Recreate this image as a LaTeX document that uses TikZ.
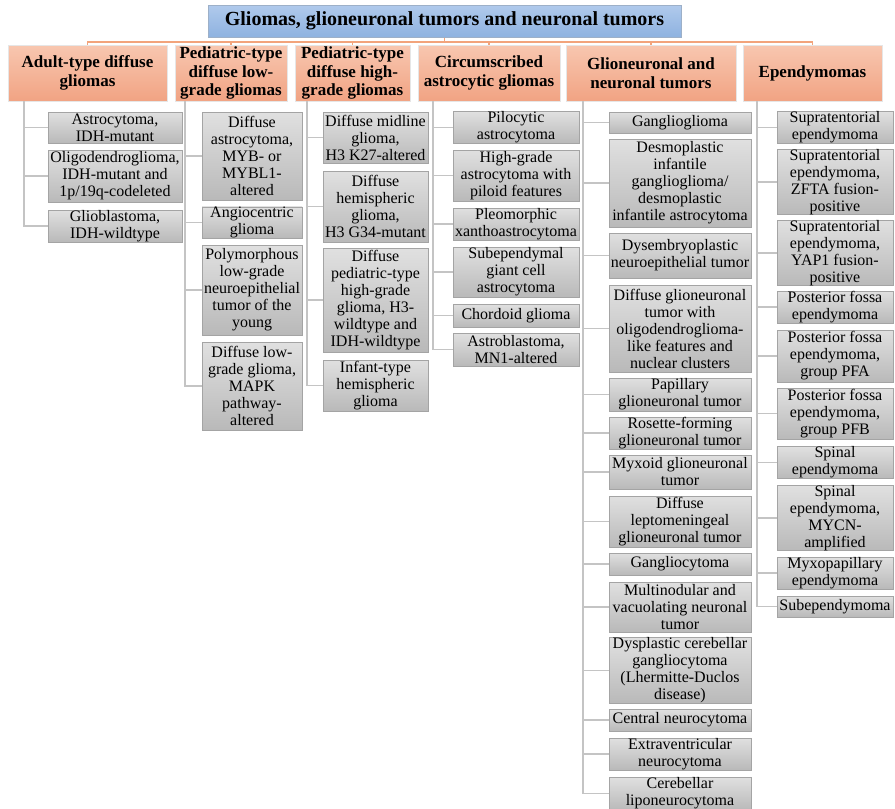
\documentclass[tikz,border=0pt]{standalone}
\usepackage{fontspec}
\setmainfont{Liberation Serif}
\definecolor{lgray}{HTML}{C4C4C4}
\definecolor{orng}{HTML}{F2A47C}
\definecolor{ctop}{HTML}{E0E0E0}
\definecolor{cbot}{HTML}{B9B9B9}
\definecolor{cbord}{HTML}{A4A4A4}
\definecolor{htop}{HTML}{F8C7B0}
\definecolor{hbot}{HTML}{F1A383}
\definecolor{hbord}{HTML}{E6E6E6}
\definecolor{ttop}{HTML}{B0CAEC}
\definecolor{tbot}{HTML}{8EB2E0}
\definecolor{tbord}{HTML}{9DB0C8}
\tikzset{
  gl/.style={draw=lgray, line width=1.3pt},
  ol/.style={draw=orng, line width=1.2pt},
  cb/.style={draw=cbord, line width=0.8pt, top color=ctop, bottom color=cbot, align=center, inner sep=0pt, text=black, font=\fontsize{16}{17}\selectfont},
  hb/.style={draw=hbord, line width=1pt, top color=htop, bottom color=hbot, align=center, inner sep=0pt, text=black, font=\fontsize{17}{18.5}\selectfont\bfseries},
  tb/.style={draw=tbord, line width=1pt, top color=ttop, bottom color=tbot, align=center, inner sep=0pt, text=black, font=\fontsize{20}{22}\selectfont\bfseries}
}
\newcommand\bx[7]{\node[#1, minimum width={#4-#3}, minimum height={#6-#5}] (#2) at ({(#3+#4)/2},{(#5+#6)/2}) {#7};}
\begin{document}
\begin{tikzpicture}[x=1pt,y=-1pt]
\useasboundingbox[fill=white] (0,0) rectangle (895,809);
% title and headers
\bx{tb}{T}{208}{681}{5}{37}{Gliomas, glioneuronal tumors and neuronal tumors}
\bx{hb}{h1}{8}{167}{45}{101}{Adult-type diffuse\\gliomas}
\bx{hb}{h2}{175}{287}{45}{101}{Pediatric-type\\diffuse low-\\grade gliomas}
\bx{hb}{h3}{295}{410}{45}{101}{Pediatric-type\\diffuse high-\\grade gliomas}
\bx{hb}{h4}{418}{560}{45}{101}{Circumscribed\\astrocytic gliomas}
\bx{hb}{h5}{566}{736}{45}{101}{Glioneuronal and\\neuronal tumors}
\bx{hb}{h6}{743}{882}{45}{101}{Ependymomas}
\coordinate (bus) at (444.5,42);
\draw[ol] (T.south) -- (bus);
\foreach \h in {h1,h2,h3,h4,h5,h6} \draw[ol] (bus) -| (\h.north);
% column 1
\bx{cb}{a1}{48}{182}{112}{143}{Astrocytoma,\\IDH-mutant}
\bx{cb}{a2}{48}{182}{150}{202}{Oligodendroglioma,\\IDH-mutant and\\1p/19q-codeleted}
\bx{cb}{a3}{48}{182}{210}{242}{Glioblastoma,\\IDH-wildtype}
% column 2
\bx{cb}{b1}{202}{302}{112}{200}{Diffuse\\astrocytoma,\\MYB- or\\MYBL1-\\altered}
\bx{cb}{b2}{202}{302}{207}{238}{Angiocentric\\glioma}
\bx{cb}{b3}{202}{302}{245}{335}{Polymorphous\\low-grade\\neuroepithelial\\tumor of the\\young}
\bx{cb}{b4}{202}{302}{342}{430}{Diffuse low-\\grade glioma,\\MAPK\\pathway-\\altered}
% column 3
\bx{cb}{c1}{323}{428}{112}{163}{Diffuse midline\\glioma,\\H3 K27-altered}
\bx{cb}{c2}{323}{428}{171}{242}{Diffuse\\hemispheric\\glioma,\\H3 G34-mutant}
\bx{cb}{c3}{323}{428}{248}{352}{Diffuse\\pediatric-type\\high-grade\\glioma, H3-\\wildtype and\\IDH-wildtype}
\bx{cb}{c4}{323}{428}{360}{411}{Infant-type\\hemispheric\\glioma}
% column 4
\bx{cb}{d1}{453}{579}{112}{143}{Pilocytic\\astrocytoma}
\bx{cb}{d2}{453}{579}{150}{201}{High-grade\\astrocytoma with\\piloid features}
\bx{cb}{d3}{453}{579}{208}{240}{Pleomorphic\\xanthoastrocytoma}
\bx{cb}{d4}{453}{579}{247}{297}{Subependymal\\giant cell\\astrocytoma}
\bx{cb}{d5}{453}{579}{304}{327}{Chordoid glioma}
\bx{cb}{d6}{453}{579}{333}{366}{Astroblastoma,\\MN1-altered}
% column 5
\bx{cb}{e1}{609}{751}{112}{133}{Ganglioglioma}
\bx{cb}{e2}{609}{751}{139}{227}{Desmoplastic\\infantile\\ganglioglioma/\\desmoplastic\\infantile astrocytoma}
\bx{cb}{e3}{609}{751}{233}{278}{Dysembryoplastic\\neuroepithelial tumor}
\bx{cb}{e4}{609}{751}{285}{372}{Diffuse glioneuronal\\tumor with\\oligodendroglioma-\\like features and\\nuclear clusters}
\bx{cb}{e5}{609}{751}{378}{411}{Papillary\\glioneuronal tumor}
\bx{cb}{e6}{609}{751}{417}{449}{Rosette-forming\\glioneuronal tumor}
\bx{cb}{e7}{609}{751}{455}{489}{Myxoid glioneuronal\\tumor}
\bx{cb}{e8}{609}{751}{496}{547}{Diffuse\\leptomeningeal\\glioneuronal tumor}
\bx{cb}{e9}{609}{751}{553}{575}{Gangliocytoma}
\bx{cb}{e10}{609}{751}{582}{632}{Multinodular and\\vacuolating neuronal\\tumor}
\bx{cb}{e11}{609}{751}{639}{702}{Dysplastic cerebellar\\gangliocytoma\\(Lhermitte-Duclos\\disease)}
\bx{cb}{e12}{609}{751}{709}{731}{Central neurocytoma}
\bx{cb}{e13}{609}{751}{738}{770}{Extraventricular\\neurocytoma}
\bx{cb}{e14}{609}{751}{777}{810}{Cerebellar\\liponeurocytoma}
% column 6
\bx{cb}{f1}{777}{893}{112}{143}{Supratentorial\\ependymoma}
\bx{cb}{f2}{777}{893}{150}{214}{Supratentorial\\ependymoma,\\ZFTA fusion-\\positive}
\bx{cb}{f3}{777}{893}{221}{285}{Supratentorial\\ependymoma,\\YAP1 fusion-\\positive}
\bx{cb}{f4}{777}{893}{291}{323}{Posterior fossa\\ependymoma}
\bx{cb}{f5}{777}{893}{330}{382}{Posterior fossa\\ependymoma,\\group PFA}
\bx{cb}{f6}{777}{893}{388}{439}{Posterior fossa\\ependymoma,\\group PFB}
\bx{cb}{f7}{777}{893}{447}{478}{Spinal\\ependymoma}
\bx{cb}{f8}{777}{893}{486}{550}{Spinal\\ependymoma,\\MYCN-\\amplified}
\bx{cb}{f9}{777}{893}{557}{589}{Myxopapillary\\ependymoma}
\bx{cb}{f10}{777}{893}{596}{617}{Subependymoma}
% connectors
\coordinate (v1) at (24,101);
\coordinate (v2) at (185,101);
\coordinate (v3) at (307,101);
\coordinate (v4) at (433,101);
\coordinate (v5) at (583,101);
\coordinate (v6) at (757,101);
\foreach \c in {a1,a2,a3} \draw[gl] (v1) |- (\c.west);
\foreach \c in {b1,b2,b3,b4} \draw[gl] (v2) |- (\c.west);
\foreach \c in {c1,c2,c3,c4} \draw[gl] (v3) |- (\c.west);
\foreach \c in {d1,d2,d3,d4,d5,d6} \draw[gl] (v4) |- (\c.west);
\foreach \c in {e1,e2,e3,e4,e5,e6,e7,e8,e9,e10,e11,e12,e13,e14} \draw[gl] (v5) |- (\c.west);
\foreach \c in {f1,f2,f3,f4,f5,f6,f7,f8,f9,f10} \draw[gl] (v6) |- (\c.west);
\end{tikzpicture}
\end{document}
